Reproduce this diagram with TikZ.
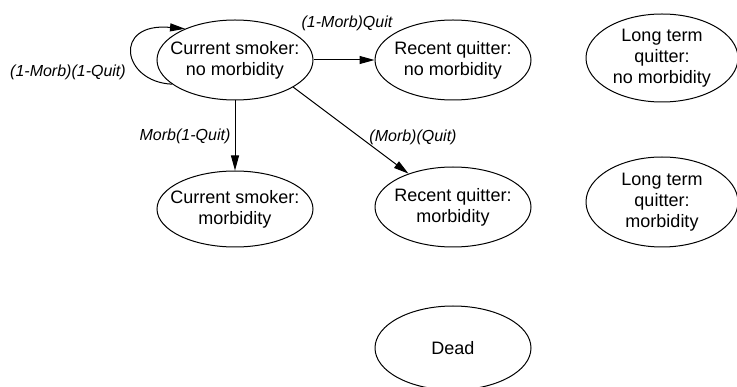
\documentclass[tikz,border=0pt]{standalone}
\usepackage{fontspec}
\setmainfont{Liberation Sans}
\usetikzlibrary{shapes.geometric,arrows.meta}
\begin{document}
\begin{tikzpicture}[x=1pt,y=-1pt,
  state/.style={ellipse,draw,line width=1pt,minimum width=156pt,minimum height=80pt,inner xsep=-14pt,inner ysep=-6pt,align=center,font=\fontsize{18}{21}\selectfont},
  tall/.style={state,minimum width=152pt,minimum height=88pt},
  trans/.style={line width=1pt,-{Triangle[length=15pt,width=8pt]}},
  lbl/.style={font=\fontsize{16}{18}\selectfont\itshape,inner sep=0pt}]
\useasboundingbox (0,0) rectangle (737,387);
\node[state] (csn) at (235,60) {Current smoker:\\no morbidity};
\node[state] (rqn) at (453,60) {Recent quitter:\\no morbidity};
\node[tall] (ltn) at (662,58) {Long term\\quitter:\\no morbidity};
\node[state,minimum height=76pt] (csm) at (235,209) {Current smoker:\\morbidity};
\node[state] (rqm) at (453,207) {Recent quitter:\\morbidity};
\node[tall,minimum height=90pt] (ltm) at (662,202) {Long term\\quitter:\\morbidity};
\node[state,minimum height=84pt] (dead) at (453,348) {Dead};
\draw[trans] (csn.201) .. controls (122,82) and (112,22) .. (csn.148);
\draw[trans] (csn) -- (rqn);
\draw[trans] (csn) -- (csm);
\draw[trans] (csn.335) -- (rqm);
\node[lbl] (l1) at (68,72) {(1-Morb)(1-Quit)};
\node[lbl] (l2) at (347,23) {(1-Morb)Quit};
\node[lbl] (l3) at (185,136) {Morb(1-Quit)};
\node[lbl] (l4) at (413,137) {(Morb)(Quit)};
\end{tikzpicture}
\end{document}
